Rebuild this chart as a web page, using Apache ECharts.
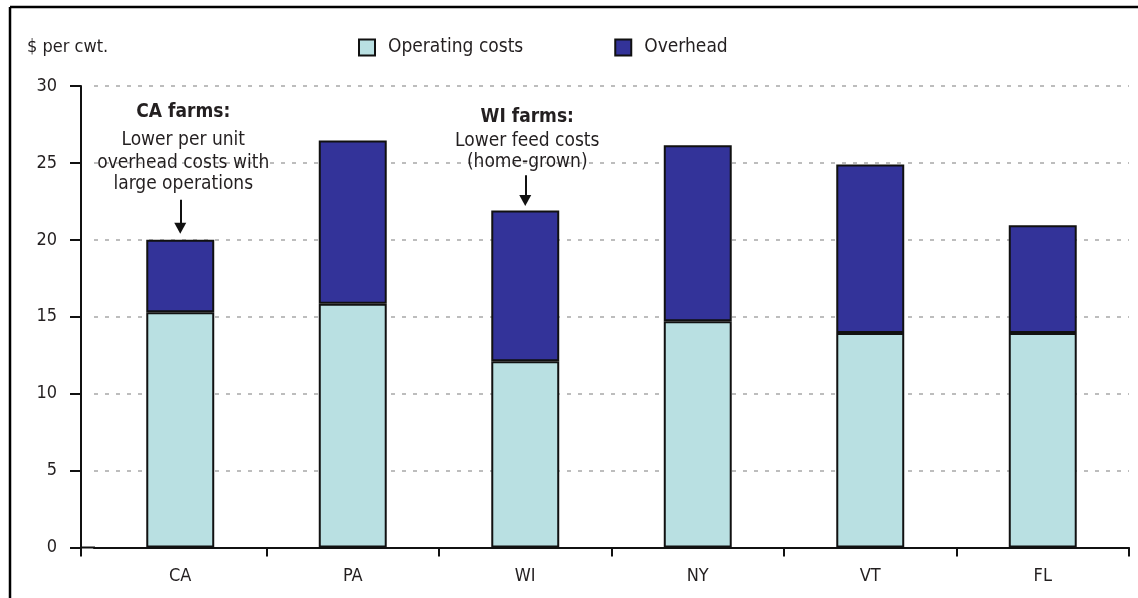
<!DOCTYPE html>
<html>
<head>
<meta charset="utf-8">
<style>
html,body{margin:0;padding:0;background:#fff;}
#c{width:1138px;height:598px;}
</style>
<script src="https://cdn.jsdelivr.net/npm/echarts@6/dist/echarts.min.js"></script>
</head>
<body>
<div id="c"></div>
<script>
// ---- data ----
var categories = ['CA', 'PA', 'WI', 'NY', 'VT', 'FL'];
var operatingTotals = [15.3, 15.85, 12.1, 14.7, 13.95, 13.95];
var overallTotals = [20.0, 26.45, 21.9, 26.15, 24.9, 20.95];
var overheadValues = overallTotals.map(function (t, i) { return +(t - operatingTotals[i]).toFixed(2); });
var yTicks = [0, 5, 10, 15, 20, 25, 30];
var seriesNames = ['Operating costs', 'Overhead'];
var caNoteTitle = 'CA farms:';
var caNoteLines = ['Lower per unit', 'overhead costs with', 'large operations'];
var wiNoteTitle = 'WI farms:';
var wiNoteLines = ['Lower feed costs', '(home-grown)'];
var yAxisTitle = '$ per cwt.';

// ---- styling / layout ----
var FONT = '"Liberation Sans Narrow", "DejaVu Sans Condensed", "Noto Sans", sans-serif';
var TXT = '#231f20';
var chart = echarts.init(document.getElementById('c'), null, {renderer: 'canvas'});

var option = {
  animation: false,
  textStyle: {fontFamily: FONT},
  grid: {left: 94, right: 9, top: 86, bottom: 50.5},
  legend: {
    left: 353, top: 33,
    itemWidth: 16, itemHeight: 16, itemGap: 91,
    icon: 'rect',
    textStyle: {fontFamily: FONT, fontSize: 19, color: TXT, padding: [0, 0, 0, 8]},
    data: seriesNames
  },
  xAxis: {
    type: 'category',
    data: categories,
    axisLine: {lineStyle: {color: '#111', width: 2}},
    axisTick: {show: true, length: 9, lineStyle: {color: '#111', width: 2},
      interval: function (i) { return i !== 0; }},
    axisLabel: {fontFamily: FONT, fontSize: 18, color: TXT, margin: 20},
    splitLine: {show: false}
  },
  yAxis: {
    type: 'value', min: yTicks[0], max: yTicks[yTicks.length - 1], interval: yTicks[1] - yTicks[0],
    offset: 13,
    axisLine: {show: true, lineStyle: {color: '#111', width: 2}},
    axisTick: {show: true, length: 11, lineStyle: {color: '#111', width: 2}},
    axisLabel: {fontFamily: FONT, fontSize: 18, color: TXT, margin: 24},
    splitLine: {show: true, lineStyle: {color: '#a8a8a8', width: 1.5, type: [4, 7]}}
  },
  series: [
    {
      name: seriesNames[0], type: 'bar', stack: 'cost', barWidth: '39.4%',
      data: operatingTotals,
      itemStyle: {color: '#b9e0e2', borderColor: '#111', borderWidth: 2},
      z: 3
    },
    {
      name: seriesNames[1], type: 'bar', stack: 'cost', barWidth: '39.4%',
      data: overheadValues,
      itemStyle: {color: '#333399', borderColor: '#111', borderWidth: 2},
      z: 3,
      markLine: {
        silent: true,
        symbol: ['none', 'triangle'],
        symbolSize: [12, 11],
        label: {show: false},
        lineStyle: {color: '#111', width: 2, type: 'solid'},
        data: [
          [{coord: ['CA', 22.6]}, {coord: ['CA', 20.75]}],
          [{coord: ['WI', 24.2]}, {coord: ['WI', 22.55]}]
        ]
      }
    }
  ],
  graphic: []
};
chart.setOption(option);

// ---- annotations and frame ----
function px(cat, v) { return chart.convertToPixel({xAxisIndex: 0, yAxisIndex: 0}, [cat, v]); }
var g = [];
function addText(cat, v, dx, text, bold) {
  var p = px(cat, v);
  g.push({type: 'text', x: p[0] + dx, y: p[1], z: 10,
    style: {text: text, fill: TXT, font: (bold ? 'bold ' : '') + '19px ' + FONT,
      textAlign: 'center', textVerticalAlign: 'middle'}});
}
addText('CA', 28.3, 3, caNoteTitle, true);
var caVals = [26.5, 25.0, 23.6];
caNoteLines.forEach(function (t, i) { addText('CA', caVals[i], 3, t, false); });
addText('WI', 27.95, 2, wiNoteTitle, true);
var wiVals = [26.4, 25.05];
wiNoteLines.forEach(function (t, i) { addText('WI', wiVals[i], 2, t, false); });

var xs = chart.convertToPixel({yAxisIndex: 0}, 0);
// y-axis title
g.push({type: 'text', x: 27, y: 47, style: {text: yAxisTitle, fill: TXT, font: '18px ' + FONT, textVerticalAlign: 'middle'}});
// x-axis extension to y-axis
g.push({type: 'line', shape: {x1: 81, y1: xs, x2: 95, y2: xs}, style: {stroke: '#111', lineWidth: 2}});
g.push({type: 'line', shape: {x1: 81, y1: xs - 1, x2: 81, y2: xs + 9}, style: {stroke: '#111', lineWidth: 2}});
// frame
g.push({type: 'line', shape: {x1: 10, y1: 7, x2: 1138, y2: 7}, style: {stroke: '#000', lineWidth: 2.5}});
g.push({type: 'line', shape: {x1: 10, y1: 7, x2: 10, y2: 598}, style: {stroke: '#000', lineWidth: 2.5}});
chart.setOption({graphic: g});
</script>
</body>
</html>
